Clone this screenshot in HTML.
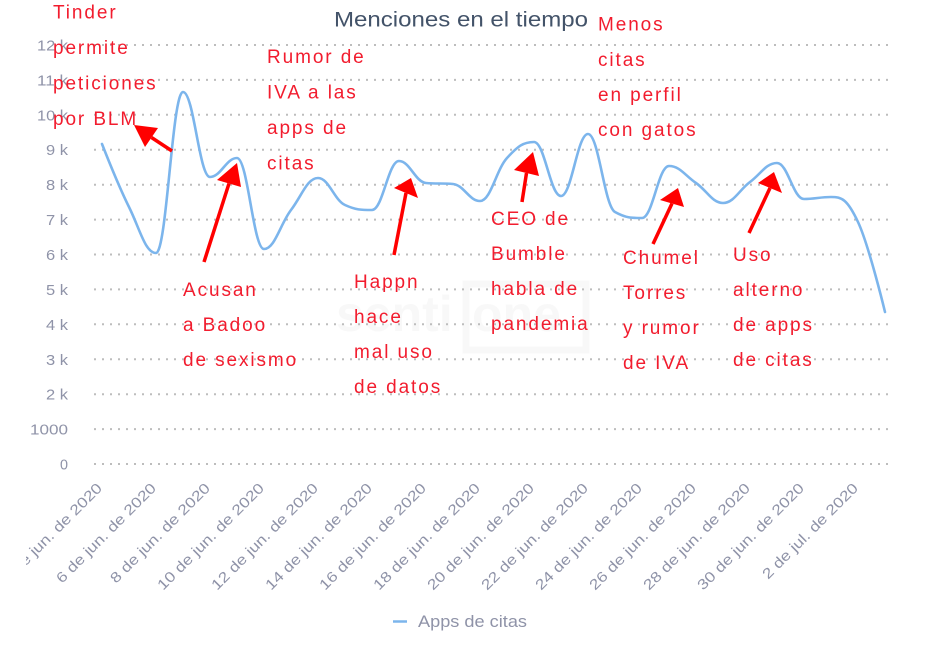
<!DOCTYPE html>
<html>
<head>
<meta charset="utf-8">
<style>
html,body{margin:0;padding:0;background:#fff;}
svg{display:block;}
.ann{font-family:"Liberation Sans",Arial,sans-serif;font-size:19px;fill:#f21c2e;letter-spacing:1.9px;}
.yl{font-family:"Liberation Sans",Arial,sans-serif;font-size:14.5px;fill:#8f93a8;text-anchor:end;}
.xl{font-family:"Liberation Sans",Arial,sans-serif;font-size:14.5px;fill:#8f93a8;text-anchor:end;}
</style>
</head>
<body>
<svg width="941" height="650" viewBox="0 0 941 650" xmlns="http://www.w3.org/2000/svg">
<defs>
<clipPath id="xclip"><rect x="26" y="470" width="915" height="160"/></clipPath>
</defs>
<rect width="941" height="650" fill="#fff"/>

<!-- watermark -->
<g opacity="0.45">
<text x="336" y="331" font-family="Liberation Sans, Arial, sans-serif" font-size="50" font-weight="bold" fill="#f1f1f1">senti</text>
<rect x="466" y="284" width="120" height="66" fill="none" stroke="#f1f1f1" stroke-width="7"/>
<text x="472" y="331" font-family="Liberation Sans, Arial, sans-serif" font-size="50" font-weight="bold" fill="#f1f1f1">one</text>
</g>

<!-- gridlines -->
<g stroke="#bdbdbd" stroke-width="2" stroke-dasharray="2 6" fill="none">
<line x1="94" y1="464" x2="888" y2="464"/>
<line x1="94" y1="429.1" x2="888" y2="429.1"/>
<line x1="94" y1="394.2" x2="888" y2="394.2"/>
<line x1="94" y1="359.3" x2="888" y2="359.3"/>
<line x1="94" y1="324.3" x2="888" y2="324.3"/>
<line x1="94" y1="289.4" x2="888" y2="289.4"/>
<line x1="94" y1="254.5" x2="888" y2="254.5"/>
<line x1="94" y1="219.6" x2="888" y2="219.6"/>
<line x1="94" y1="184.7" x2="888" y2="184.7"/>
<line x1="94" y1="149.7" x2="888" y2="149.7"/>
<line x1="94" y1="114.8" x2="888" y2="114.8"/>
<line x1="94" y1="79.9" x2="888" y2="79.9"/>
<line x1="94" y1="45" x2="888" y2="45"/>
</g>

<!-- y labels -->
<text class="yl" x="68" y="469.5" textLength="8" lengthAdjust="spacingAndGlyphs">0</text>
<text class="yl" x="68" y="434.6" textLength="38" lengthAdjust="spacingAndGlyphs">1000</text>
<text class="yl" x="68" y="399.7" textLength="22" lengthAdjust="spacingAndGlyphs">2 k</text>
<text class="yl" x="68" y="364.8" textLength="22" lengthAdjust="spacingAndGlyphs">3 k</text>
<text class="yl" x="68" y="329.8" textLength="22" lengthAdjust="spacingAndGlyphs">4 k</text>
<text class="yl" x="68" y="294.9" textLength="22" lengthAdjust="spacingAndGlyphs">5 k</text>
<text class="yl" x="68" y="260" textLength="22" lengthAdjust="spacingAndGlyphs">6 k</text>
<text class="yl" x="68" y="225.1" textLength="22" lengthAdjust="spacingAndGlyphs">7 k</text>
<text class="yl" x="68" y="190.2" textLength="22" lengthAdjust="spacingAndGlyphs">8 k</text>
<text class="yl" x="68" y="155.2" textLength="22" lengthAdjust="spacingAndGlyphs">9 k</text>
<text class="yl" x="68" y="120.3" textLength="31" lengthAdjust="spacingAndGlyphs">10 k</text>
<text class="yl" x="68" y="85.4" textLength="31" lengthAdjust="spacingAndGlyphs">11 k</text>
<text class="yl" x="68" y="50.5" textLength="31" lengthAdjust="spacingAndGlyphs">12 k</text>

<!-- x labels -->
<g clip-path="url(#xclip)">
<text class="xl" transform="translate(103,489) rotate(-45) scale(1.2,1)">4 de jun. de 2020</text>
<text class="xl" transform="translate(157,489) rotate(-45) scale(1.2,1)">6 de jun. de 2020</text>
<text class="xl" transform="translate(211,489) rotate(-45) scale(1.2,1)">8 de jun. de 2020</text>
<text class="xl" transform="translate(265,489) rotate(-45) scale(1.2,1)">10 de jun. de 2020</text>
<text class="xl" transform="translate(319,489) rotate(-45) scale(1.2,1)">12 de jun. de 2020</text>
<text class="xl" transform="translate(373,489) rotate(-45) scale(1.2,1)">14 de jun. de 2020</text>
<text class="xl" transform="translate(427,489) rotate(-45) scale(1.2,1)">16 de jun. de 2020</text>
<text class="xl" transform="translate(481,489) rotate(-45) scale(1.2,1)">18 de jun. de 2020</text>
<text class="xl" transform="translate(535,489) rotate(-45) scale(1.2,1)">20 de jun. de 2020</text>
<text class="xl" transform="translate(589,489) rotate(-45) scale(1.2,1)">22 de jun. de 2020</text>
<text class="xl" transform="translate(643,489) rotate(-45) scale(1.2,1)">24 de jun. de 2020</text>
<text class="xl" transform="translate(697,489) rotate(-45) scale(1.2,1)">26 de jun. de 2020</text>
<text class="xl" transform="translate(751,489) rotate(-45) scale(1.2,1)">28 de jun. de 2020</text>
<text class="xl" transform="translate(805,489) rotate(-45) scale(1.2,1)">30 de jun. de 2020</text>
<text class="xl" transform="translate(859,489) rotate(-45) scale(1.2,1)">2 de jul. de 2020</text>
</g>

<!-- series -->
<path fill="none" stroke="#7cb5ec" stroke-width="2.6" stroke-linejoin="round" stroke-linecap="round" d="M102,144
C102,144 118.2,185.2 129,207
C139.8,228.8 145.2,253 156,253
C166.8,253 172.2,92 183,92
C193.8,92 199.2,177 210,177
C220.8,177 226.2,158 237,158
C247.8,158 253.2,249 264,249
C274.8,249 280.2,224.2 291,210
C301.8,195.8 307.2,178 318,178
C328.8,178 334.2,200 345,205
C355.8,210 361.2,210 372,210
C382.8,210 388.2,161 399,161
C409.8,161 415.2,182 426,183
C436.8,184 442.2,183 453,184
C463.8,185 469.2,201 480,201
C490.8,201 496.2,169.8 507,158
C517.8,146.2 523.2,142 534,142
C544.8,142 550.2,196 561,196
C571.8,196 577.2,134 588,134
C598.8,134 604.2,206 615,212
C625.8,218 631.2,218 642,218
C652.8,218 658.2,166 669,166
C679.8,166 685.2,175.6 696,183
C706.8,190.4 712.2,203 723,203
C733.8,203 739.2,190 750,182
C760.8,174 766.2,163 777,163
C787.8,163 793.2,199 804,199
C814.8,199 820.2,197 831,197
C841.8,197 847.2,199 858,222
C868.8,245 885,312 885,312"/>

<!-- title -->
<text x="334" y="26.5" font-family="Liberation Sans, Arial, sans-serif" font-size="21" fill="#435369" textLength="254" lengthAdjust="spacingAndGlyphs">Menciones en el tiempo</text>

<!-- arrows -->
<g stroke="#ff0000" stroke-width="3.5" fill="none" stroke-linecap="butt">
<line x1="172" y1="151" x2="151.5" y2="137.5"/>
<line x1="204" y1="262" x2="229" y2="183.5"/>
<line x1="394" y1="255" x2="406" y2="193"/>
<line x1="522" y1="202" x2="526.5" y2="173"/>
<line x1="653" y1="244" x2="672" y2="203.5"/>
<line x1="749" y1="233" x2="770" y2="188"/>
</g>
<g fill="#ff0000">
<polygon points="134,125 145,147 158,128"/>
<polygon points="237,163 217,180 241,187"/>
<polygon points="411,178 394,188 418,198"/>
<polygon points="533,152 514,170 539,176"/>
<polygon points="678,188 660,200 684,207"/>
<polygon points="774,172 758,183 782,193"/>
</g>

<!-- annotations -->
<g class="ann">
<text x="53" y="18.5">Tinder</text>
<text x="53" y="54">permite</text>
<text x="53" y="89.5">peticiones</text>
<text x="53" y="125">por BLM</text>

<text x="267" y="63">Rumor de</text>
<text x="267" y="98.5">IVA a las</text>
<text x="267" y="134">apps de</text>
<text x="267" y="169.5">citas</text>

<text x="598" y="30.7">Menos</text>
<text x="598" y="65.8">citas</text>
<text x="598" y="101">en perfil</text>
<text x="598" y="136">con gatos</text>

<text x="183" y="296">Acusan</text>
<text x="183" y="331">a Badoo</text>
<text x="183" y="366">de sexismo</text>

<text x="354" y="288">Happn</text>
<text x="354" y="323">hace</text>
<text x="354" y="358">mal uso</text>
<text x="354" y="393">de datos</text>

<text x="491" y="225">CEO de</text>
<text x="491" y="260">Bumble</text>
<text x="491" y="295">habla de</text>
<text x="491" y="330">pandemia</text>

<text x="623" y="264">Chumel</text>
<text x="623" y="299">Torres</text>
<text x="623" y="334">y rumor</text>
<text x="623" y="369">de IVA</text>

<text x="733" y="261">Uso</text>
<text x="733" y="296">alterno</text>
<text x="733" y="331">de apps</text>
<text x="733" y="366">de citas</text>
</g>

<!-- legend -->
<line x1="393" y1="621.5" x2="407" y2="621.5" stroke="#7cb5ec" stroke-width="2.5"/>
<text x="418" y="627" font-family="Liberation Sans, Arial, sans-serif" font-size="17" fill="#8f93a8" textLength="109" lengthAdjust="spacingAndGlyphs">Apps de citas</text>
</svg>
</body>
</html>
